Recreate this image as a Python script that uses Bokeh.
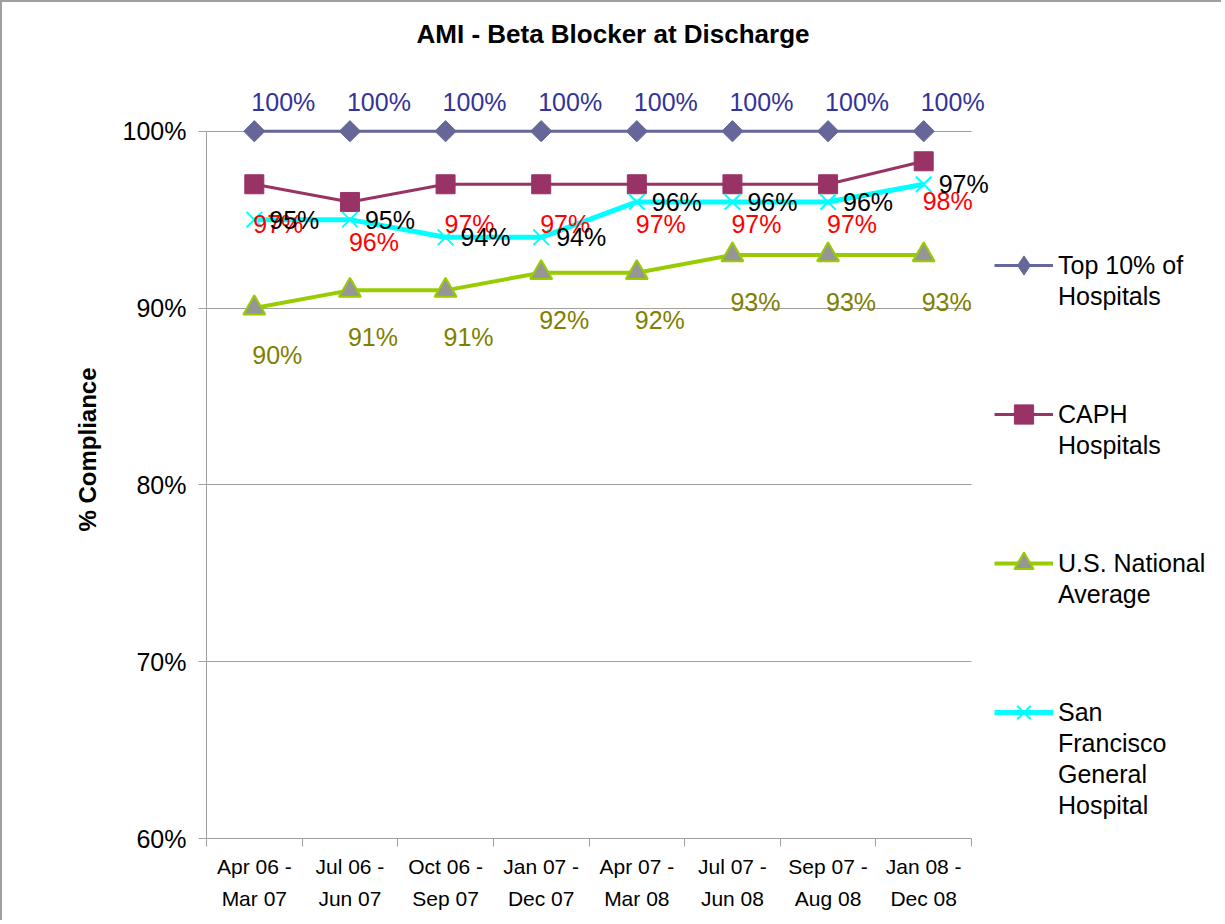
import math
from bokeh.plotting import figure
from bokeh.models import (Range1d, FixedTicker, PrintfTickFormatter, Legend, LegendItem,
                          LabelSet, ColumnDataSource)
from bokeh.embed import file_html
from bokeh.resources import INLINE
from bokeh.core.properties import value

# ---------------- data ----------------
periods = ["Apr 06 -\nMar 07", "Jul 06 -\nJun 07", "Oct 06 -\nSep 07", "Jan 07 -\nDec 07",
           "Apr 07 -\nMar 08", "Jul 07 -\nJun 08", "Sep 07 -\nAug 08", "Jan 08 -\nDec 08"]
top10 = [100, 100, 100, 100, 100, 100, 100, 100]
caph = [97.0, 96.0, 97.0, 97.0, 97.0, 97.0, 97.0, 98.3]
national = [90, 91, 91, 92, 92, 93, 93, 93]
sfgh = [95.0, 95.0, 94.0, 94.0, 96.0, 96.0, 96.0, 97.0]
series_names = ["Top 10% of\nHospitals", "CAPH\nHospitals", "U.S. National\nAverage",
                "San\nFrancisco\nGeneral\nHospital"]
y_ticks = [60, 70, 80, 90, 100]
title_text = "AMI - Beta Blocker at Discharge"
y_label = "% Compliance"

FONT = "Liberation Sans"
GRAY = "#a0a0a0"

# ---------------- geometry (pixels) ----------------
W, H = 1221, 920
FRAME_L, FRAME_R_AXIS, FRAME_T, FRAME_B = 204, 969, 58, 836
LEG_X = 788            # legend left, from frame left
LEG_FIRST = 205        # first legend line centre, from frame top
LEG_PITCH = 149        # distance between legend entries
LINE_PITCH = 31        # text line pitch inside an entry
GLYPH_H = 48

xs = list(range(len(periods)))
x_lo = -0.5
x_hi_axis = len(periods) - 0.5
px_per_unit = (FRAME_R_AXIS - FRAME_L) / (x_hi_axis - x_lo)
x_hi = x_lo + (W - FRAME_L) / px_per_unit   # frame extends to the right edge (labels + legend)

p = figure(width=W, height=H,
           x_range=Range1d(x_lo, x_hi), y_range=Range1d(60, 104),
           output_backend="svg", toolbar_location=None,
           min_border_left=FRAME_L, min_border_right=0, min_border_top=FRAME_T,
           min_border_bottom=H - FRAME_B)
p.styles = {"border-top": "2px solid #a0a0a0", "border-left": "2px solid #a0a0a0"}
p.outline_line_color = None
p.background_fill_color = "white"
p.border_fill_color = "white"

# title
p.title.text = title_text
p.title.text_font = FONT
p.title.text_font_style = "bold"
p.title.text_font_size = "26px"
p.title.text_color = "black"
p.title.align = "left"
p.title.offset = 210
p.title.standoff = 23

# x axis
xa = p.xaxis[0]
xa.ticker = FixedTicker(ticks=xs, minor_ticks=[x - 0.5 for x in xs] + [xs[-1] + 0.5])
xa.major_label_overrides = {x: lab for x, lab in zip(xs, periods)}
xa.bounds = (x_lo, x_hi_axis)
xa.major_tick_line_color = None
xa.major_tick_out = 0
xa.major_tick_in = 0
xa.minor_tick_line_color = GRAY
xa.minor_tick_out = 8
xa.minor_tick_in = 0
xa.axis_line_color = GRAY
xa.major_label_text_font = FONT
xa.major_label_text_font_size = "21px"
xa.major_label_text_color = "black"
xa.major_label_text_line_height = 1.4
xa.major_label_standoff = 8

# y axis
ya = p.yaxis[0]
ya.ticker = FixedTicker(ticks=y_ticks)
ya.formatter = PrintfTickFormatter(format="%d%%")
ya.bounds = (60, 100)
ya.axis_line_color = GRAY
ya.major_tick_line_color = GRAY
ya.major_tick_out = 8
ya.major_tick_in = 0
ya.minor_tick_line_color = None
ya.major_label_text_font = FONT
ya.major_label_text_font_size = "25px"
ya.major_label_text_color = "black"
ya.major_label_standoff = 12
ya.axis_label = y_label
ya.axis_label_text_font = FONT
ya.axis_label_text_font_style = "bold"
ya.axis_label_text_font_size = "24px"
ya.axis_label_text_color = "black"
ya.axis_label_standoff = 19

p.xgrid.visible = False
yg = p.ygrid[0]
yg.ticker = FixedTicker(ticks=y_ticks)
yg.grid_line_color = GRAY
yg.grid_line_width = 1
if "cross_bounds" in yg.properties():
    yg.cross_bounds = (x_lo, x_hi_axis)

# series
l1 = p.line(xs, top10, line_color="#666699", line_width=3)
m1 = p.scatter(xs, top10, marker="square", angle=math.pi / 4, size=15,
               fill_color="#666699", line_color="#666699")
l2 = p.line(xs, caph, line_color="#993366", line_width=3)
m2 = p.scatter(xs, caph, marker="square", size=19, fill_color="#993366", line_color="#993366")
l3 = p.line(xs, national, line_color="#99cc00", line_width=4)
m3 = p.scatter(xs, national, marker="triangle", size=22, fill_color="#969696",
               line_color="#99cc00", line_width=2)
l4 = p.line(xs, sfgh, line_color="#00ffff", line_width=5)
m4 = p.scatter(xs, sfgh, marker="x", size=22, line_color="#00ffff", line_width=2)

# legend-only diamond key (the legend does not rotate the square marker); NaN -> not drawn in plot
m1_key = p.scatter([math.nan], [math.nan], marker="diamond",
                   fill_color="#666699", line_color="#666699")

# data labels
def add_labels(vals, color, dx, dy):
    src = ColumnDataSource(dict(x=xs, y=vals, t=[f"{v:.0f}%" for v in vals]))
    p.add_layout(LabelSet(x="x", y="y", text="t", source=src, x_offset=dx, y_offset=dy,
                          text_align="center", text_baseline="middle",
                          text_font=value(FONT), text_font_size="25px", text_color=color))

add_labels(top10, "#333399", 29, 29)
add_labels(caph, "#ff0000", 24, -40)
add_labels(sfgh, "#000000", 40, 0)
add_labels(national, "#808000", 23, -47)

# legend: for each series a legend with the glyph and the first text line,
# followed by a glyph-less legend holding the remaining lines of the name
ghost = p.scatter([math.nan], [math.nan], fill_alpha=0, line_alpha=0)
frame_h = FRAME_B - FRAME_T
common = dict(orientation="vertical", border_line_color=None, background_fill_alpha=0,
              label_text_font=FONT, label_text_font_size="25px", label_text_color="black",
              glyph_width=59, label_standoff=5, label_height=20, padding=0, margin=0)
legend_renderers = [[l1, m1_key], [l2, m2], [l3, m3], [l4, m4]]
for k, (name, rends) in enumerate(zip(series_names, legend_renderers)):
    lines = name.split("\n")
    first_c = LEG_FIRST + k * LEG_PITCH          # from frame top
    head = Legend(items=[LegendItem(label=lines[0], renderers=rends)],
                  location=(LEG_X, frame_h - (first_c + GLYPH_H / 2)),
                  glyph_height=GLYPH_H, spacing=0, **common)
    p.add_layout(head)
    rest = lines[1:]
    if rest:
        top = first_c + LINE_PITCH / 2
        bottom = top + len(rest) * LINE_PITCH
        tail = Legend(items=[LegendItem(label=t, renderers=[ghost]) for t in rest],
                      location=(LEG_X, frame_h - bottom),
                      glyph_height=LINE_PITCH, spacing=0, **common)
        p.add_layout(tail)

open("out.html", "w").write(file_html(p, INLINE))
